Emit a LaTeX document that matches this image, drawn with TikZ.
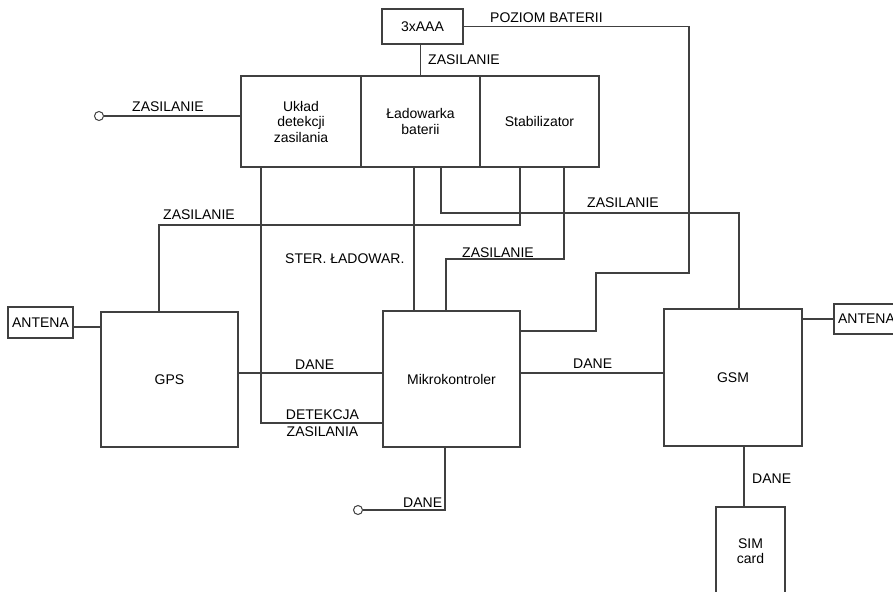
\documentclass[tikz,border=0pt]{standalone}
\usepackage{fontspec}
\setmainfont{Liberation Sans}
\usetikzlibrary{calc}
\definecolor{ln}{gray}{0.25}
\begin{document}
\begin{tikzpicture}[x=1pt,y=-1pt,
  every node/.style={font=\fontsize{14}{15.5}\selectfont},
  box/.style={draw=ln, line width=1.1pt, inner sep=0pt, align=center},
  conn/.style={draw=ln, line width=1.1pt},
  lbl/.style={inner sep=0pt, anchor=base west},
  term/.style={circle, draw=ln, line width=1pt, minimum size=9pt, inner sep=0pt, fill=white}]
\useasboundingbox (0,0) rectangle (893,591);

% boxes
\node[box, minimum width=81pt, minimum height=35pt] (aaa) at (422.5,26.5) {3xAAA};
\node[box, minimum width=120pt, minimum height=91pt] (uklad) at (301,121.5) {Układ\\detekcji\\zasilania};
\node[box, minimum width=119pt, minimum height=91pt] (lad) at (420.5,121.5) {Ładowarka\\baterii};
\node[box, minimum width=119pt, minimum height=91pt] (stab) at (539.5,121.5) {Stabilizator};
\node[box, minimum width=137pt, minimum height=135pt] (gps) at (169.5,379.5) {GPS};
\node[box, minimum width=137pt, minimum height=136pt] (mikro) at (451.5,379) {Mikrokontroler};
\node[box, minimum width=138pt, minimum height=137pt] (gsm) at (733,377.5) {GSM};
\node[box, minimum width=65pt, minimum height=31pt] (ant1) at (40.5,322.5) {ANTENA};
\node[box, minimum width=65pt, minimum height=30pt] (ant2) at (866.5,319) {ANTENA};
\node[box, minimum width=69pt, minimum height=88pt] (sim) at (750.5,551) {SIM\\card};

% terminals
\node[term] (in1) at (99,116) {};
\node[term] (out1) at (358,510) {};

% bend points
\coordinate (p1) at (689,273);
\coordinate (p2) at (596,331);
\coordinate (q1) at (739,213);
\coordinate (q2) at (159,225);
\coordinate (q3) at (446,259);

% connectors
\draw[conn] (lad.north) -- (aaa.south -| lad.north);
\draw[conn] (aaa.east) -| (p1) -| (p2) -- (mikro.east |- p2);
\draw[conn] (in1.east) -- (in1.east -| uklad.west);
\draw[conn] (uklad.south -| 261,0) |- (mikro.west |- 0,423);
\draw[conn] (lad.south -| 414,0) -- (mikro.north -| 414,0);
\draw[conn] (lad.south -| 441,0) |- (q1) -- (gsm.north -| q1);
\draw[conn] (stab.south -| 520,0) |- (q2) -- (gps.north -| q2);
\draw[conn] (stab.south -| 564,0) |- (q3) -- (mikro.north -| q3);
\draw[conn] (gps.east |- 0,373) -- (mikro.west |- 0,373);
\draw[conn] (mikro.east |- 0,373) -- (gsm.west |- 0,373);
\draw[conn] (gps.west |- 0,327) -- (ant1.east |- 0,327);
\draw[conn] (gsm.east |- ant2.west) -- (ant2.west);
\draw[conn] (gsm.south -| 744,0) -- (sim.north -| 744,0);
\draw[conn] (mikro.south -| 445,0) |- (out1.east);

% labels
\node[lbl] (l1) at (490,23) {POZIOM BATERII};
\node[lbl] (l2) at (428,65) {ZASILANIE};
\node[lbl] (l3) at (132,112) {ZASILANIE};
\node[lbl] (l4) at (163,219) {ZASILANIE};
\node[lbl] (l5) at (587,207) {ZASILANIE};
\node[lbl] (l6) at (462,257) {ZASILANIE};
\node[lbl] (l7) at (285,263) {STER. ŁADOWAR.};
\node[lbl] (l8) at (295,369) {DANE};
\node[inner sep=0pt, anchor=north, align=center, font=\fontsize{14}{17}\selectfont] (l9) at (322.5,409.5) {DETEKCJA\\ZASILANIA};
\node[lbl] (l10) at (403,507) {DANE};
\node[lbl] (l11) at (573,368) {DANE};
\node[lbl] (l12) at (752,483) {DANE};
\end{tikzpicture}
\end{document}
